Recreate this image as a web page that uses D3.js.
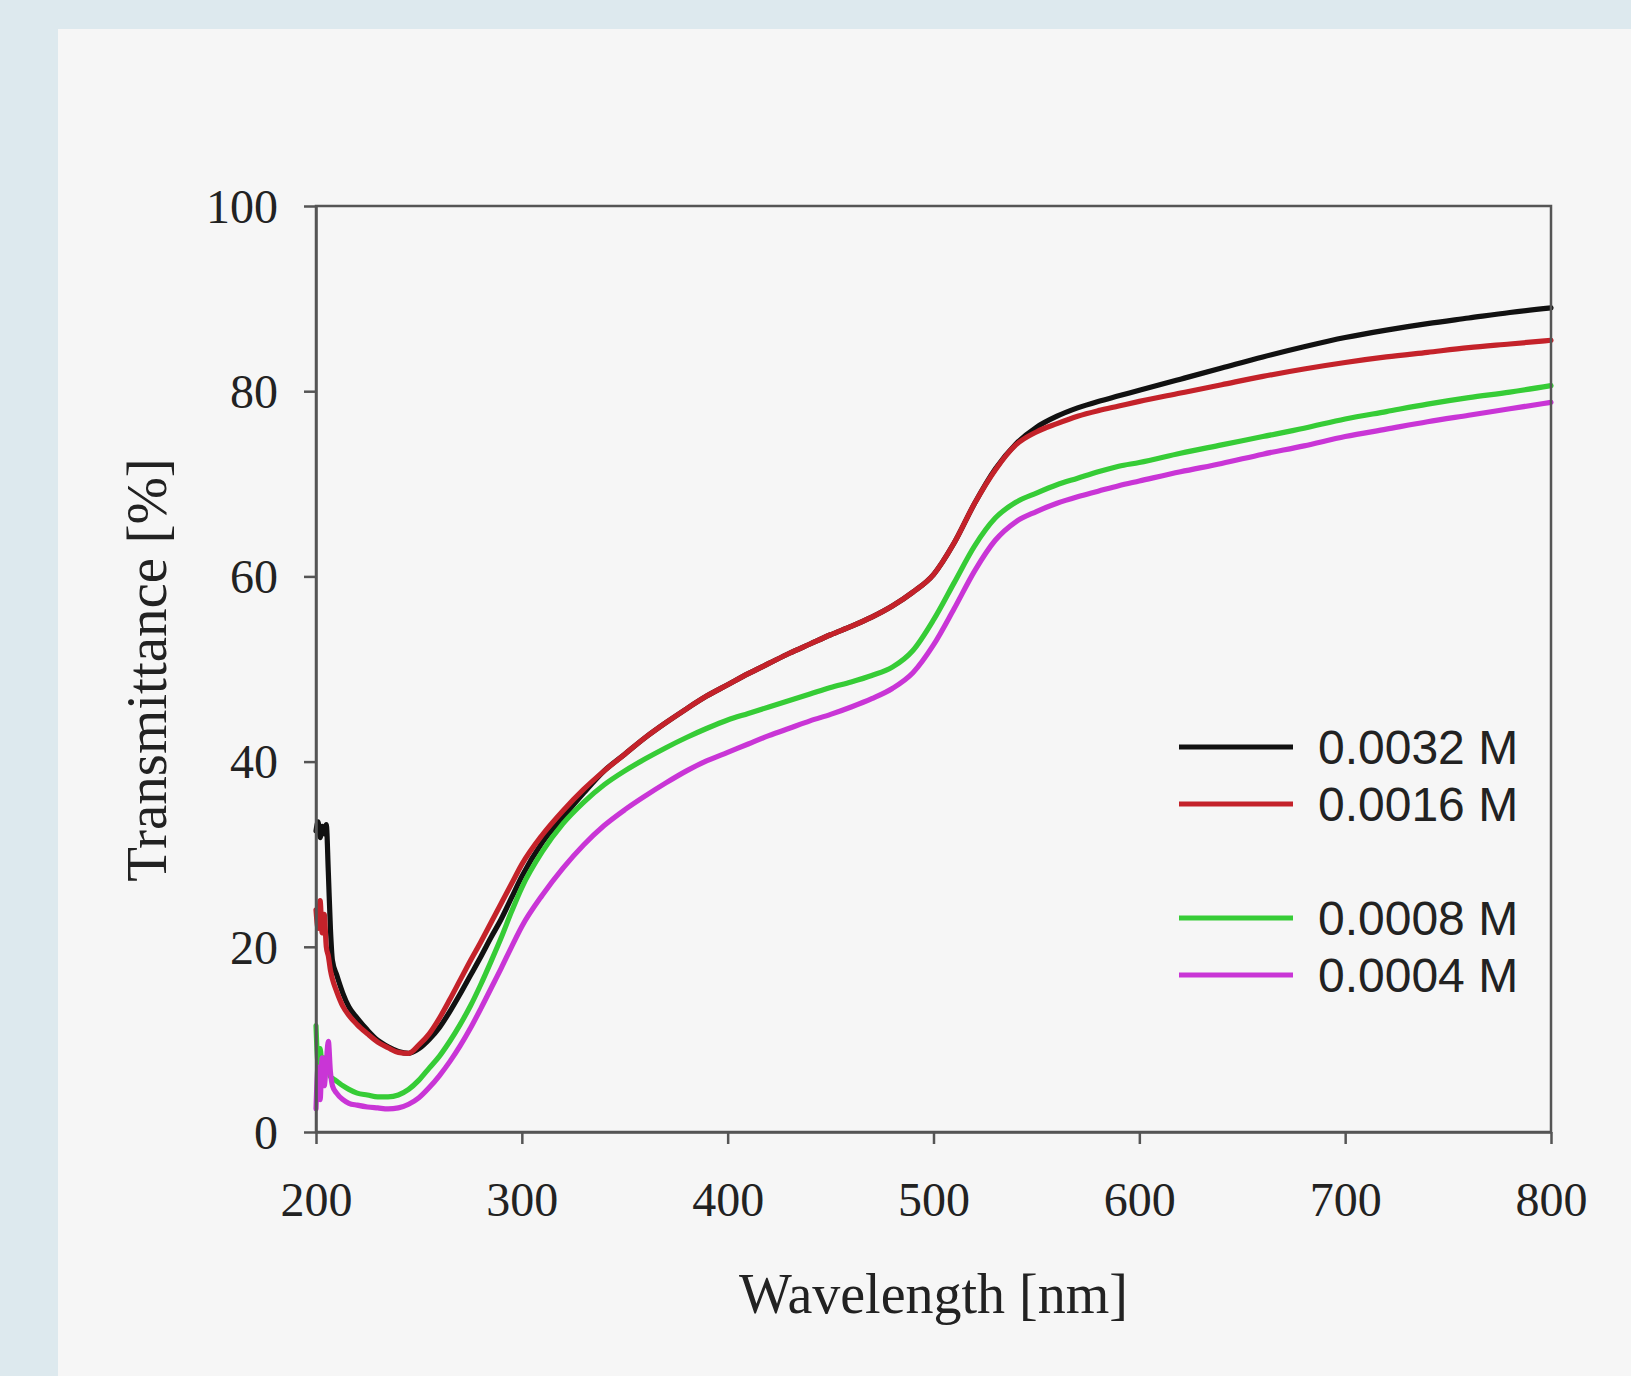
<!DOCTYPE html>
<html>
<head>
<meta charset="utf-8">
<script src="https://cdn.jsdelivr.net/npm/d3@7"></script>
<style>
  html, body { margin: 0; padding: 0; background: #dde9ee; }
  svg { display: block; }
</style>
</head>
<body>
<svg id="chart" width="1631" height="1376"></svg>
<script>
// ---- data ----
const wavelengths = [200,201,202,203,204,205,206,207,208,210,213,216,220,225,230,235,240,245,250,255,260,265,270,275,280,285,290,295,300,310,320,330,340,350,360,370,380,390,400,410,420,430,440,450,460,470,480,490,500,510,520,530,540,550,560,570,580,590,600,620,640,660,680,700,720,740,760,780,800];

const t0032 = [32.5,33.5,31.8,33.0,32.2,33.2,28.0,22.0,18.5,17.0,15.0,13.5,12.3,11.0,9.9,9.2,8.7,8.5,9.0,10.0,11.3,13.0,14.9,16.9,18.9,21.0,23.0,25.3,27.6,31.3,34.0,36.6,39.0,40.8,42.6,44.2,45.7,47.1,48.3,49.5,50.6,51.7,52.7,53.7,54.6,55.6,56.8,58.3,60.2,63.6,67.9,71.6,74.3,76.1,77.3,78.2,78.9,79.5,80.1,81.3,82.5,83.7,84.8,85.8,86.6,87.3,87.9,88.5,89.0];

const t0016 = [24.0,22.0,25.0,21.5,23.5,20.0,19.0,17.5,16.5,15.2,13.6,12.6,11.6,10.6,9.7,9.1,8.6,8.5,9.4,10.6,12.3,14.3,16.4,18.5,20.5,22.6,24.7,26.8,28.9,32.1,34.7,37.0,39.0,40.8,42.6,44.2,45.7,47.1,48.3,49.5,50.6,51.7,52.7,53.7,54.6,55.6,56.8,58.3,60.2,63.6,67.9,71.5,74.2,75.6,76.5,77.3,77.9,78.4,78.9,79.8,80.7,81.6,82.4,83.1,83.7,84.2,84.7,85.1,85.5];

const t0008 = [11.5,7.5,9.0,7.0,8.0,6.5,7.0,6.0,5.8,5.5,5.0,4.6,4.2,4.0,3.8,3.8,4.0,4.6,5.6,6.9,8.2,9.8,11.6,13.6,15.9,18.4,21.0,23.8,26.4,30.3,33.3,35.6,37.5,39.0,40.3,41.5,42.6,43.6,44.5,45.2,45.9,46.6,47.3,48.0,48.6,49.3,50.2,52.0,55.3,59.3,63.3,66.3,68.0,69.0,69.9,70.6,71.3,71.9,72.3,73.3,74.2,75.1,76.0,77.0,77.8,78.6,79.3,79.9,80.6];

const t0004 = [2.5,7.0,3.5,8.0,5.0,7.5,9.8,6.5,5.0,4.2,3.5,3.1,2.9,2.7,2.6,2.5,2.6,3.0,3.7,4.8,6.1,7.6,9.3,11.2,13.3,15.5,17.7,20.0,22.2,25.6,28.5,31.0,33.1,34.8,36.3,37.7,39.0,40.1,41.0,41.9,42.8,43.6,44.4,45.1,45.9,46.8,47.9,49.6,52.6,56.5,60.6,63.9,65.9,67.0,67.9,68.6,69.2,69.8,70.3,71.3,72.2,73.2,74.1,75.1,75.9,76.7,77.4,78.1,78.8];

const seriesNames = ["0.0032 M", "0.0016 M", "0.0008 M", "0.0004 M"];
const seriesValues = [t0032, t0016, t0008, t0004];
const seriesColors = ["#111111", "#c4222a", "#36cc36", "#c935d6"];

const xTicks = [200, 300, 400, 500, 600, 700, 800];
const yTicks = [0, 20, 40, 60, 80, 100];
const xTitle = "Wavelength [nm]";
const yTitle = "Transmittance [%]";

// ---- drawing ----
const svg = d3.select("#chart");

// inner panel
svg.append("rect").attr("x", 58).attr("y", 29).attr("width", 1631 - 58).attr("height", 1376 - 29)
  .attr("fill", "#f6f6f6");

const x = d3.scaleLinear().domain([200, 800]).range([316, 1551]);
const y = d3.scaleLinear().domain([0, 100]).range([1132, 206]);

const axisColor = "#555";
const serif = "'Liberation Serif', 'Times New Roman', serif";
const sans = "'Liberation Sans', Arial, sans-serif";

// curves
const line = d3.line().x(d => x(d[0])).y(d => y(d[1])).curve(d3.curveMonotoneX);
seriesValues.forEach((vals, i) => {
  const pts = wavelengths.map((w, j) => [w, vals[j]]);
  svg.append("path").datum(pts)
    .attr("fill", "none")
    .attr("stroke", seriesColors[i])
    .attr("stroke-width", 5.2)
    .attr("stroke-linejoin", "round")
    .attr("stroke-linecap", "round")
    .attr("d", line);
});

// frame (top & right)
svg.append("rect")
  .attr("x", x(200)).attr("y", y(100))
  .attr("width", x(800) - x(200)).attr("height", y(0) - y(100))
  .attr("fill", "none").attr("stroke", axisColor).attr("stroke-width", 2.5);

// left axis
const gy = svg.append("g").attr("transform", `translate(${x(200)},0)`)
  .call(d3.axisLeft(y).tickValues(yTicks).tickSize(12).tickPadding(26).tickSizeOuter(0));
gy.select(".domain").attr("stroke", axisColor).attr("stroke-width", 2.5);
gy.selectAll(".tick line").attr("stroke", axisColor).attr("stroke-width", 2.5);
gy.selectAll(".tick text").attr("font-family", serif).attr("font-size", 48)
  .attr("fill", "#222").attr("dy", "0.34em");

// bottom axis
const gx = svg.append("g").attr("transform", `translate(0,${y(0)})`)
  .call(d3.axisBottom(x).tickValues(xTicks).tickSize(12).tickSizeOuter(0));
gx.select(".domain").attr("stroke", axisColor).attr("stroke-width", 2.5);
gx.selectAll(".tick line").attr("stroke", axisColor).attr("stroke-width", 2.5);
gx.selectAll(".tick text").attr("font-family", serif).attr("font-size", 48)
  .attr("fill", "#222").attr("y", 84).attr("dy", 0);

// axis titles
svg.append("text").attr("x", (x(200) + x(800)) / 2).attr("y", 1313)
  .attr("text-anchor", "middle").attr("font-family", serif).attr("font-size", 56)
  .attr("fill", "#222").text(xTitle);
svg.append("text").attr("transform", "translate(166,670) rotate(-90)")
  .attr("text-anchor", "middle").attr("font-family", serif).attr("font-size", 57)
  .attr("fill", "#222").text(yTitle);

// legend
const legendY = [747, 804, 918, 975];
const lg = svg.append("g");
seriesNames.forEach((name, i) => {
  lg.append("line").attr("x1", 1179).attr("x2", 1293)
    .attr("y1", legendY[i]).attr("y2", legendY[i])
    .attr("stroke", seriesColors[i]).attr("stroke-width", 5);
  lg.append("text").attr("x", 1318).attr("y", legendY[i] + 17)
    .attr("font-family", sans).attr("font-size", 48).attr("fill", "#222").text(name);
});
</script>
</body>
</html>
